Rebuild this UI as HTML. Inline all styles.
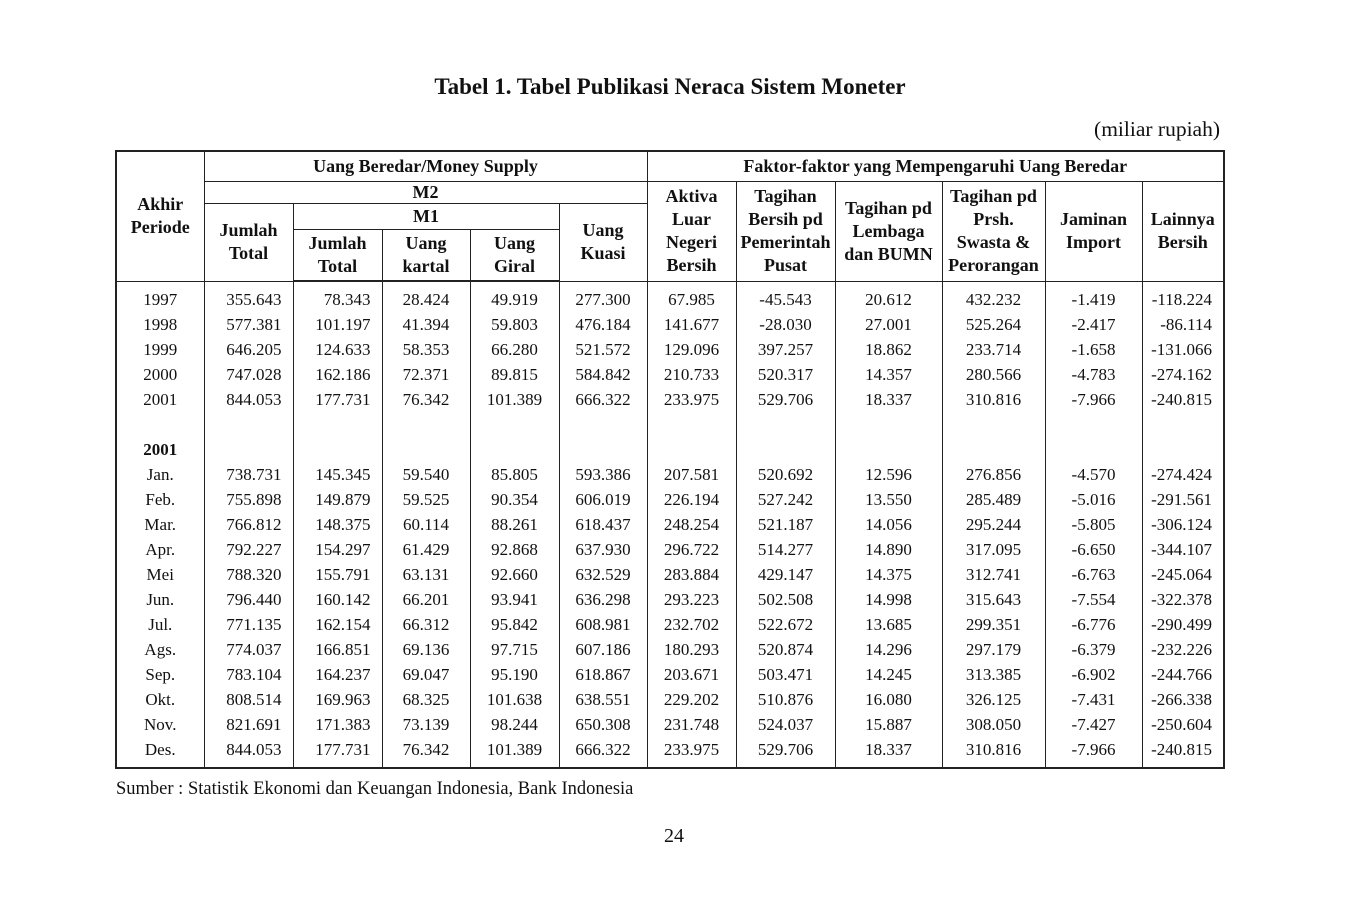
<!DOCTYPE html>
<html><head><meta charset="utf-8"><style>
body{margin:0;width:1346px;height:898px;background:#fff;font-family:"Liberation Serif",serif;color:#111;position:relative;overflow:hidden}
.abs{position:absolute}
table{position:absolute;left:115px;top:150px;border-collapse:collapse;table-layout:fixed;border:2px solid #222}
td,th{font-size:17px;padding:0;line-height:23px;text-align:center;border-left:1px solid #222;border-right:1px solid #222;overflow:visible;white-space:nowrap}
th{font-size:18px;font-weight:bold;border-bottom:1px solid #222;vertical-align:middle;line-height:23px}
thead tr:last-child th{border-bottom:2px solid #222}
tbody td{height:25px;line-height:25px}
tbody td.pad{height:5px;line-height:0;font-size:0}
td.r{text-align:right;padding-right:11px}
</style></head><body>
<div class="abs" style="left:0;width:1340px;top:74px;text-align:center;font-weight:bold;font-size:23px">Tabel 1. Tabel Publikasi Neraca Sistem Moneter</div>
<div class="abs" style="right:126px;top:117px;font-size:21.5px">(miliar rupiah)</div>
<table>
<colgroup><col style="width:88px"><col style="width:89px"><col style="width:89px"><col style="width:88px"><col style="width:89px"><col style="width:88px"><col style="width:89px"><col style="width:99px"><col style="width:107px"><col style="width:103px"><col style="width:97px"><col style="width:82px"></colgroup>
<thead>
<tr style="height:30px"><th rowspan="4">Akhir<br>Periode</th><th colspan="5">Uang Beredar/Money Supply</th><th colspan="6">Faktor-faktor yang Mempengaruhi Uang Beredar</th></tr>
<tr style="height:22px"><th colspan="5" style="line-height:20px">M2</th><th rowspan="3">Aktiva<br>Luar<br>Negeri<br>Bersih</th><th rowspan="3">Tagihan<br>Bersih pd<br>Pemerintah<br>Pusat</th><th rowspan="3">Tagihan pd<br>Lembaga<br>dan BUMN</th><th rowspan="3">Tagihan pd<br>Prsh.<br>Swasta &amp;<br>Perorangan</th><th rowspan="3">Jaminan<br>Import</th><th rowspan="3">Lainnya<br>Bersih</th></tr>
<tr style="height:26px"><th rowspan="2">Jumlah<br>Total</th><th colspan="3">M1</th><th rowspan="2">Uang<br>Kuasi</th></tr>
<tr style="height:52px"><th>Jumlah<br>Total</th><th>Uang<br>kartal</th><th>Uang<br>Giral</th></tr>
</thead>
<tbody id="tb"></tbody>
</table>
<div class="abs" style="left:116px;top:779px;font-size:18.5px">Sumber : Statistik Ekonomi dan Keuangan Indonesia, Bank Indonesia</div>
<div class="abs" style="left:0;width:1348px;top:825px;text-align:center;font-size:20px">24</div>
<script>
const periods=["1997","1998","1999","2000","2001","","2001","Jan.","Feb.","Mar.","Apr.","Mei","Jun.","Jul.","Ags.","Sep.","Okt.","Nov.","Des."];
const rows=[
["355.643","78.343","28.424","49.919","277.300","67.985","-45.543","20.612","432.232","-1.419","-118.224"],
["577.381","101.197","41.394","59.803","476.184","141.677","-28.030","27.001","525.264","-2.417","-86.114"],
["646.205","124.633","58.353","66.280","521.572","129.096","397.257","18.862","233.714","-1.658","-131.066"],
["747.028","162.186","72.371","89.815","584.842","210.733","520.317","14.357","280.566","-4.783","-274.162"],
["844.053","177.731","76.342","101.389","666.322","233.975","529.706","18.337","310.816","-7.966","-240.815"],
null,null,
["738.731","145.345","59.540","85.805","593.386","207.581","520.692","12.596","276.856","-4.570","-274.424"],
["755.898","149.879","59.525","90.354","606.019","226.194","527.242","13.550","285.489","-5.016","-291.561"],
["766.812","148.375","60.114","88.261","618.437","248.254","521.187","14.056","295.244","-5.805","-306.124"],
["792.227","154.297","61.429","92.868","637.930","296.722","514.277","14.890","317.095","-6.650","-344.107"],
["788.320","155.791","63.131","92.660","632.529","283.884","429.147","14.375","312.741","-6.763","-245.064"],
["796.440","160.142","66.201","93.941","636.298","293.223","502.508","14.998","315.643","-7.554","-322.378"],
["771.135","162.154","66.312","95.842","608.981","232.702","522.672","13.685","299.351","-6.776","-290.499"],
["774.037","166.851","69.136","97.715","607.186","180.293","520.874","14.296","297.179","-6.379","-232.226"],
["783.104","164.237","69.047","95.190","618.867","203.671","503.471","14.245","313.385","-6.902","-244.766"],
["808.514","169.963","68.325","101.638","638.551","229.202","510.876","16.080","326.125","-7.431","-266.338"],
["821.691","171.383","73.139","98.244","650.308","231.748","524.037","15.887","308.050","-7.427","-250.604"],
["844.053","177.731","76.342","101.389","666.322","233.975","529.706","18.337","310.816","-7.966","-240.815"]];
const tb=document.getElementById('tb');
function padRow(){
  const tr=document.createElement('tr');
  
  
  for(let j=0;j<12;j++){const d=document.createElement('td');d.className='pad';tr.appendChild(d);}
  tb.appendChild(tr);
}
padRow();
periods.forEach((p,i)=>{
  const tr=document.createElement('tr');
  
  
  const c=document.createElement('td');c.textContent=p;
  
  
  if(i===6)c.style.fontWeight='bold';
  tr.appendChild(c);
  for(let j=0;j<11;j++){
    const d=document.createElement('td');
    
    
    if(rows[i])d.textContent=rows[i][j];
    if(j<2||j===10)d.className='r';
    tr.appendChild(d);
  }
  tb.appendChild(tr);
});
padRow();
</script>
</body></html>
